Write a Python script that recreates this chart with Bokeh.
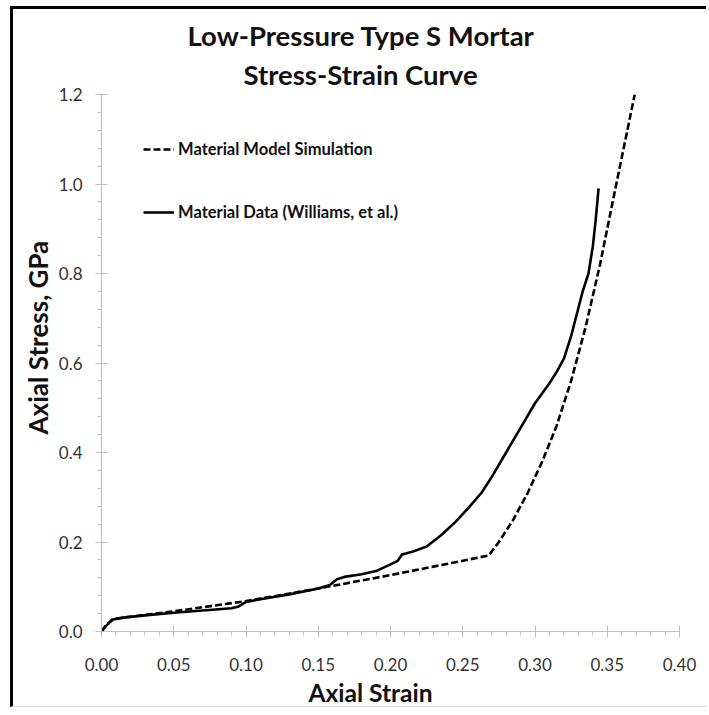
from bokeh.plotting import figure
from bokeh.models import (Range1d, FixedTicker, PrintfTickFormatter, Title,
                          Legend, LegendItem)
from bokeh.embed import file_html
from bokeh.resources import INLINE

# ---------------- data ----------------
model_strain = [0.0, 0.003, 0.008, 0.02, 0.05, 0.10, 0.15, 0.20, 0.25, 0.268,
                0.275, 0.285, 0.295, 0.305, 0.315, 0.325, 0.335, 0.345, 0.355,
                0.362, 0.369]
model_stress = [0.0, 0.014, 0.028, 0.033, 0.045, 0.068, 0.096, 0.126, 0.158,
                0.170, 0.20, 0.25, 0.31, 0.38, 0.46, 0.56, 0.68, 0.82, 0.98,
                1.09, 1.20]

data_strain = [0.0, 0.003, 0.008, 0.015, 0.03, 0.05, 0.07, 0.09, 0.095, 0.10,
               0.11, 0.13, 0.15, 0.158, 0.163, 0.168, 0.18, 0.19, 0.20, 0.205,
               0.208, 0.215, 0.225, 0.235, 0.245, 0.255, 0.263, 0.27, 0.28,
               0.29, 0.30, 0.31, 0.315, 0.32, 0.325, 0.329, 0.333, 0.337,
               0.340, 0.342, 0.344]
data_stress = [0.0, 0.012, 0.027, 0.031, 0.036, 0.042, 0.047, 0.052, 0.056,
               0.066, 0.072, 0.083, 0.096, 0.104, 0.117, 0.122, 0.128, 0.135,
               0.150, 0.158, 0.172, 0.178, 0.190, 0.215, 0.245, 0.28, 0.31,
               0.345, 0.40, 0.455, 0.51, 0.555, 0.58, 0.61, 0.66, 0.71, 0.76,
               0.80, 0.86, 0.92, 0.99]

x_ticks = [0.0, 0.05, 0.10, 0.15, 0.20, 0.25, 0.30, 0.35, 0.40]
y_ticks = [0.0, 0.2, 0.4, 0.6, 0.8, 1.0, 1.2]
x_minor = [i * 0.01 for i in range(41)]
y_minor = [i * 0.04 for i in range(31)]

title_lines = ["Low-Pressure Type S Mortar", "Stress-Strain Curve"]
x_label = "Axial Strain"
y_label = "Axial Stress, GPa"
series_names = ["Material Model Simulation", "Material Data (Williams, et al.)"]

FONT = "Lato"
AXIS_GREY = "#bfbfbf"
TEXT = "#111111"

# ---------------- figure ----------------
OX, OY = 13, 9                 # canvas offset inside the black page frame
W, H = 709 - OX, 710 - OY
FL, FR, FT = 101 - OX, 30, 94 - OY
FB = H - (631 - OY)

p = figure(width=W, height=H, output_backend="svg", toolbar_location=None,
           x_range=Range1d(0, 0.4), y_range=Range1d(0, 1.2),
           min_border_left=FL, min_border_right=FR,
           min_border_top=FT, min_border_bottom=FB)
p.margin = (OY - 3, 0, 0, OX - 3)
p.styles = {"border-top": "3px solid #000000",
            "border-left": "3px solid #000000",
            "border-bottom": "1px solid #d4d4d4"}
p.outline_line_color = None
p.grid.visible = False
p.background_fill_color = "white"
p.border_fill_color = "white"

for ax in (p.xaxis[0], p.yaxis[0]):
    ax.axis_line_color = AXIS_GREY
    ax.major_tick_line_color = AXIS_GREY
    ax.minor_tick_line_color = AXIS_GREY
    ax.major_tick_in = 6
    ax.major_tick_out = 6
    ax.minor_tick_in = 0
    ax.minor_tick_out = 4
    ax.major_label_text_font = FONT
    ax.major_label_text_font_size = "17px"
    ax.major_label_text_color = "#333333"

p.xaxis[0].ticker = FixedTicker(ticks=x_ticks, minor_ticks=x_minor)
p.xaxis[0].formatter = PrintfTickFormatter(format="%.2f")
p.xaxis[0].major_label_standoff = 20
p.yaxis[0].ticker = FixedTicker(ticks=y_ticks, minor_ticks=y_minor)
p.yaxis[0].formatter = PrintfTickFormatter(format="%.1f")
p.yaxis[0].major_label_standoff = 13

r_model = p.line(model_strain, model_stress, line_color="black", line_width=2.6,
                 line_dash="7 3")
r_data = p.line(data_strain, data_stress, line_color="black", line_width=2.6)

legend = Legend(items=[LegendItem(label=series_names[0], renderers=[r_model]),
                       LegendItem(label=series_names[1], renderers=[r_data])],
                location=(42, 409), orientation="vertical",
                glyph_width=31, glyph_height=20, label_height=20,
                spacing=43, padding=0, margin=0, label_standoff=4,
                background_fill_alpha=0, border_line_alpha=0,
                label_text_font=FONT, label_text_font_style="bold",
                label_text_font_size="16.5px", label_text_color=TEXT)
p.add_layout(legend)

# two-line title (stacked outward from the frame)
p.add_layout(Title(text=title_lines[1], align="left", offset=142, standoff=8,
                   text_font=FONT, text_font_style="bold",
                   text_font_size="27.5px", text_color=TEXT), "above")
p.add_layout(Title(text=title_lines[0], align="left", offset=86, standoff=0,
                   text_font=FONT, text_font_style="bold",
                   text_font_size="27.5px", text_color=TEXT), "above")

# axis titles (placed as side titles so they can sit off-centre like the original)
p.add_layout(Title(text=x_label, align="left", offset=207, standoff=4,
                   text_font=FONT, text_font_style="bold",
                   text_font_size="24.5px", text_color=TEXT), "below")
p.add_layout(Title(text=y_label, align="left", offset=197, standoff=4,
                   text_font=FONT, text_font_style="bold",
                   text_font_size="26px", text_color=TEXT), "left")

open("out.html", "w").write(file_html(p, INLINE))
